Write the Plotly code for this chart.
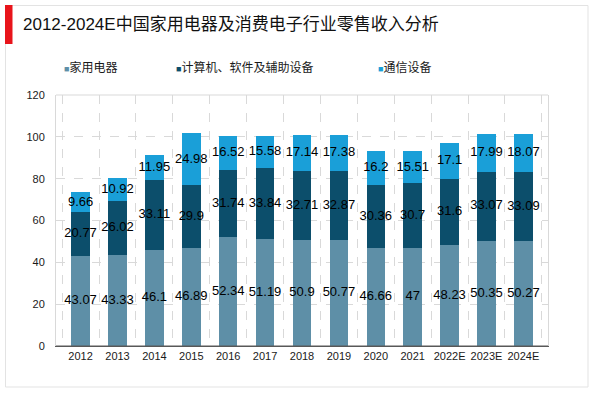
import plotly.graph_objects as go

categories = ["2012", "2013", "2014", "2015", "2016", "2017", "2018", "2019",
              "2020", "2021", "2022E", "2023E", "2024E"]
home_appliances = [43.07, 43.33, 46.1, 46.89, 52.34, 51.19, 50.9, 50.77, 46.66, 47, 48.23, 50.35, 50.27]
computers = [20.77, 26.02, 33.11, 29.9, 31.74, 33.84, 32.71, 32.87, 30.36, 30.7, 31.6, 33.07, 33.09]
telecom = [9.66, 10.92, 11.95, 24.98, 16.52, 15.58, 17.14, 17.38, 16.2, 15.51, 17.1, 17.99, 18.07]
series_names = ["家用电器", "计算机、软件及辅助设备", "通信设备"]
colors = ["#5E8FA7", "#0C4E6B", "#1A9FD8"]
title_text = "2012-2024E中国家用电器及消费电子行业零售收入分析"

FONT = "Liberation Sans, Arial, Noto Sans CJK SC, sans-serif"

# body margin is removed by the post script, so window pixels == figure pixels
W, H = 600, 393
L, R, T, B = 56, 548, 95, 346
pw, ph = R - L, B - T

def px_x(x):
    return (x - L) / pw

def px_y(y):
    return (B - y) / ph

fig = go.Figure()
series = [home_appliances, computers, telecom]
legends = ["legend", "legend2", "legend3"]
for vals, name, col, lg in zip(series, series_names, colors, legends):
    fig.add_trace(go.Bar(x=categories, y=vals, name=name, marker_color=col,
                         marker_line_width=0, showlegend=False, hoverinfo="skip"))
    # legend entries: coloured square glyph tight against the text
    fig.add_trace(go.Scatter(x=[None], y=[None], mode="markers",
                             name=f'<span style="color:{col};font-size:9px">■</span>{name}',
                             marker=dict(symbol="square", size=1, color="rgba(0,0,0,0)"),
                             legend=lg, showlegend=True))

# value labels centred in each segment
base = [0.0] * len(categories)
for vals in series:
    mids = [b + v / 2 for b, v in zip(base, vals)]
    fig.add_trace(go.Scatter(x=categories, y=mids, mode="text",
                             text=[f"{v:g}" for v in vals],
                             textfont=dict(size=13, color="#000000", family=FONT),
                             showlegend=False, hoverinfo="skip"))
    base = [b + v for b, v in zip(base, vals)]

legend_common = dict(orientation="h", font=dict(size=12, color="#1a1a1a", family=FONT),
                     bgcolor="rgba(0,0,0,0)", yanchor="middle", xanchor="left",
                     itemwidth=30, tracegroupgap=0)
fig.update_layout(
    width=W, height=H,
    margin=dict(l=L, r=W - R, t=T, b=H - B, autoexpand=False),
    paper_bgcolor="white", plot_bgcolor="white",
    barmode="stack", bargap=0.5,
    font=dict(family=FONT, color="#1a1a1a"),
    legend=dict(x=px_x(24), y=px_y(67), **legend_common),
    legend2=dict(x=px_x(136), y=px_y(67), **legend_common),
    legend3=dict(x=px_x(338), y=px_y(67), **legend_common),
    xaxis=dict(type="category", tickson="boundaries", showgrid=True,
               gridcolor="#D9D9D9", griddash="dash", gridwidth=1,
               showline=True, linecolor="#595959", linewidth=1, tickangle=0,
               automargin=False,
               ticks="", tickfont=dict(size=11, color="#1a1a1a"), zeroline=False),
    yaxis=dict(range=[0, 120], dtick=20, showgrid=True, gridcolor="#D9D9D9",
               griddash="dash", gridwidth=1, showline=True, linecolor="#D9D9D9",
               mirror=True, ticks="", ticklabelstandoff=8, automargin=False,
               tickfont=dict(size=11, color="#1a1a1a"), zeroline=False),
    showlegend=True,
)

shapes = [
    # outer frame
    dict(type="rect", xref="paper", yref="paper",
         x0=px_x(5.5), x1=px_x(588), y0=px_y(387), y1=px_y(5.5),
         line=dict(color="#E3E3E3", width=1), fillcolor="rgba(0,0,0,0)", layer="below"),
    # red accent bar
    dict(type="rect", xref="paper", yref="paper",
         x0=px_x(5), x1=px_x(12.5), y0=px_y(44), y1=px_y(5),
         line=dict(width=0), fillcolor="#E8141B"),
    # top frame of plot area
    dict(type="line", xref="paper", yref="paper", x0=0, x1=1, y0=1, y1=1,
         line=dict(color="#D9D9D9", width=1)),
    # bottom axis line redraw (darker)
    dict(type="line", xref="paper", yref="paper", x0=0, x1=1, y0=0, y1=0,
         line=dict(color="#595959", width=1)),
]
fig.update_layout(shapes=shapes)

fig.add_annotation(text=title_text, xref="paper", yref="paper",
                   x=px_x(21), y=px_y(24), xanchor="left", yanchor="middle",
                   showarrow=False, font=dict(size=17, color="#111111", family=FONT))

fig.write_html("out.html", config={"displayModeBar": False},
               post_script="document.body.style.margin='0px';document.body.style.overflow='hidden';")
